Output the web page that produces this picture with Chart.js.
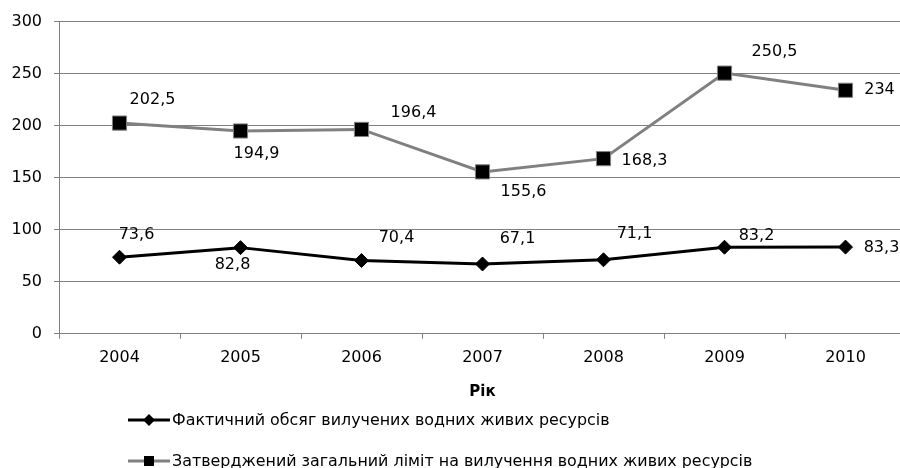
<!DOCTYPE html>
<html lang="uk">
<head>
<meta charset="utf-8">
<script src="https://cdn.jsdelivr.net/npm/chart.js@4"></script>
<style>
    html, body { margin: 0; padding: 0; background: #fff; overflow: hidden; }
</style>
</head>
<body>
<canvas id="grafik" width="920" height="468"></canvas>
<script>
// дані з графіка
const roky = ['2004', '2005', '2006', '2007', '2008', '2009', '2010'];
const faktychnyi = [73.6, 82.8, 70.4, 67.1, 71.1, 83.2, 83.3];
const limit = [202.5, 194.9, 196.4, 155.6, 168.3, 250.5, 234];
const nazvaFakt = 'Фактичний обсяг вилучених водних живих ресурсів';
const nazvaLimit = 'Затверджений загальний ліміт на вилучення водних живих ресурсів';
const nazvaOsi = 'Рік';

// зсуви підписів значень відносно точок (px)
const zsuvFakt = [[17, -22], [-8, 17], [35, -23], [35, -25], [31, -26], [32, -11], [36, 1]];
const zsuvLimit = [[33, -23], [16, 23], [52, -17], [41, 20], [41, 2], [50, -21], [34, 0]];

const shryft = 'DejaVu Sans';
const rozmir = 16;
const siryi = '#808080';

const pidpysy = {
    id: 'pidpysy',
    afterDatasetsDraw(chart) {
        const ctx = chart.ctx;
        const zsuvy = [zsuvFakt, zsuvLimit];
        ctx.save();
        ctx.font = rozmir + 'px "' + shryft + '"';
        ctx.fillStyle = '#000';
        ctx.textAlign = 'center';
        ctx.textBaseline = 'middle';
        chart.data.datasets.forEach((ds, i) => {
            chart.getDatasetMeta(i).data.forEach((pt, j) => {
                const z = zsuvy[i][j];
                ctx.fillText(String(ds.data[j]).replace('.', ','), pt.x + z[0], pt.y + z[1]);
            });
        });
        ctx.restore();
    }
};

const legenda = {
    id: 'legenda',
    afterDraw(chart) {
        const ctx = chart.ctx;
        const x0 = 128, x1 = 170, xm = 149;
        const ryadky = [420, 461];
        ctx.save();
        ctx.font = '15.9px "' + shryft + '"';
        ctx.textBaseline = 'middle';
        ctx.textAlign = 'left';
        chart.data.datasets.forEach((ds, i) => {
            const y = ryadky[i];
            ctx.strokeStyle = ds.borderColor;
            ctx.lineWidth = 3;
            ctx.beginPath();
            ctx.moveTo(x0, y);
            ctx.lineTo(x1, y);
            ctx.stroke();
            ctx.fillStyle = '#000';
            ctx.beginPath();
            if (ds.pointStyle === 'rectRot') {
                ctx.moveTo(xm - 6, y);
                ctx.lineTo(xm, y - 6);
                ctx.lineTo(xm + 6, y);
                ctx.lineTo(xm, y + 6);
                ctx.closePath();
            } else {
                ctx.rect(xm - 5, y - 5, 10, 10);
            }
            ctx.fill();
            ctx.fillText(ds.label, x1 + 2, y + 1);
        });
        ctx.restore();
    }
};

new Chart(document.getElementById('grafik'), {
    type: 'line',
    data: {
        labels: roky,
        datasets: [
            {
                label: nazvaFakt,
                data: faktychnyi,
                borderColor: '#000',
                borderWidth: 3,
                pointStyle: 'rectRot',
                pointRadius: 7,
                pointBackgroundColor: '#000',
                pointBorderColor: '#000',
                pointBorderWidth: 1
            },
            {
                label: nazvaLimit,
                data: limit,
                borderColor: siryi,
                borderWidth: 3,
                pointStyle: 'rect',
                pointRadius: 10,
                pointBackgroundColor: '#000',
                pointBorderColor: siryi,
                pointBorderWidth: 1
            }
        ]
    },
    options: {
        responsive: false,
        animation: false,
        layout: {
            padding: { top: 21, right: 14, bottom: 67, left: 0 }
        },
        plugins: {
            legend: { display: false },
            tooltip: { enabled: false }
        },
        scales: {
            x: {
                offset: true,
                grid: {
                    offset: true,
                    drawOnChartArea: false,
                    drawTicks: true,
                    tickLength: 5,
                    color: siryi
                },
                border: { color: siryi, width: 1 },
                ticks: {
                    color: '#000',
                    padding: 9,
                    font: { family: shryft, size: rozmir }
                },
                title: {
                    display: true,
                    text: nazvaOsi,
                    color: '#000',
                    padding: { top: 7, bottom: 0 },
                    font: { family: shryft, size: 15, weight: 'bold' }
                }
            },
            y: {
                min: 0,
                max: 300,
                afterFit(scale) { scale.width = 59; },
                grid: {
                    color: siryi,
                    tickLength: 5
                },
                border: { color: siryi, width: 1 },
                ticks: {
                    stepSize: 50,
                    color: '#000',
                    padding: 12,
                    font: { family: shryft, size: rozmir }
                }
            }
        }
    },
    plugins: [pidpysy, legenda]
});
</script>
</body>
</html>
